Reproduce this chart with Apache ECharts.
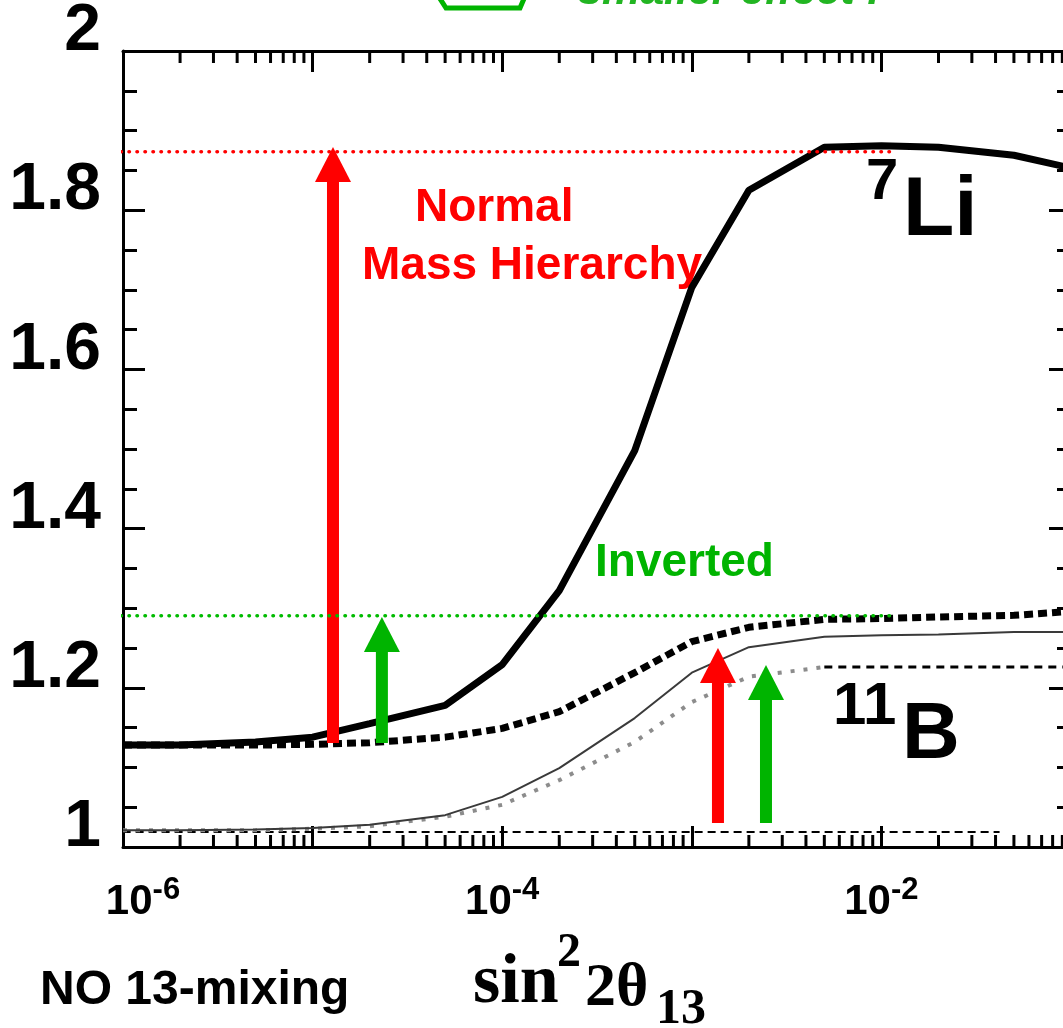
<!DOCTYPE html>
<html>
<head>
<meta charset="utf-8">
<title>7Li / 11B vs sin22θ13</title>
<script src="https://cdn.jsdelivr.net/npm/echarts@6/dist/echarts.min.js"></script>
<style>
html,body{margin:0;padding:0;background:#fff}
#main{width:1063px;height:1028px}
</style>
</head>
<body>
<div id="main"></div>
<script>
// sin^2 2theta13 sample points
var sinGrid = [1e-6, 2e-6, 5e-6, 1e-5, 2e-5, 5e-5, 1e-4, 2e-4, 5e-4, 1e-3, 2e-3, 5e-3, 1e-2, 2e-2, 5e-2, 1e-1];
var li7Normal   = [1.128, 1.128, 1.132, 1.138, 1.155, 1.178, 1.229, 1.322, 1.498, 1.703, 1.825, 1.879, 1.881, 1.879, 1.869, 1.853];
var li7Inverted = [1.128, 1.128, 1.128, 1.129, 1.131, 1.138, 1.149, 1.170, 1.219, 1.258, 1.276, 1.286, 1.287, 1.289, 1.291, 1.296];
var b11Normal   = [1.021, 1.021, 1.022, 1.024, 1.028, 1.040, 1.063, 1.099, 1.162, 1.219, 1.251, 1.264, 1.266, 1.267, 1.270, 1.270];
var b11Inverted = [1.021, 1.021, 1.021, 1.023, 1.026, 1.038, 1.053, 1.084, 1.132, 1.182, 1.214, 1.226, 1.226, 1.226, 1.226, 1.226];

// horizontal reference lines
var noMixX = [8.5e-7, 4.2e-2];   var noMixY = 1.019;
var normalX = [8.85e-7, 1.15e-2]; var normalY = 1.8735;
var invX = [8.85e-7, 1.15e-2];    var invY = 1.2906;

// arrows: [x, bottom, tip]
var redArrows   = [[1.281e-5, 1.1307, 1.8794], [1.374e-3, 1.030, 1.250]];
var greenArrows = [[2.32e-5, 1.1307, 1.289], [2.462e-3, 1.030, 1.2286]];

var xMin = 1e-6, xMax = 1e-1;
var yMin = 1, yMax = 2;

function pairs(xs, ys) {
  var out = [];
  for (var i = 0; i < xs.length; i++) out.push([xs[i], ys[i]]);
  return out;
}

var minorX = [];
for (var d = -6; d <= -2; d++) {
  for (var k = 2; k <= 9; k++) minorX.push([k * Math.pow(10, d), 1]);
}

var RED = '#ff0000', GREEN = '#00b400';

function arrowItem(color) {
  return function (params, api) {
    var b = api.coord([api.value(0), api.value(1)]);
    var t = api.coord([api.value(0), api.value(2)]);
    var head = 35, hw = 18, sw = 6;
    return {
      type: 'group',
      children: [
        {type: 'rect', shape: {x: b[0] - sw, y: t[1] + head - 1, width: sw * 2, height: b[1] - t[1] - head + 1}, style: {fill: color}},
        {type: 'polygon', shape: {points: [[t[0], t[1]], [t[0] - hw, t[1] + head], [t[0] + hw, t[1] + head]]}, style: {fill: color}}
      ]
    };
  };
}

var supLabel = {
  b:  {fontSize: 42, fontWeight: 'bold', color: '#000', lineHeight: 54, fontFamily: 'Liberation Sans, Arial, sans-serif'},
  b0: {fontSize: 42, fontWeight: 'bold', color: '#000', lineHeight: 54, padding: [0, 0, 0, 40], fontFamily: 'Liberation Sans, Arial, sans-serif'},
  s:  {fontSize: 31, fontWeight: 'bold', color: '#000', lineHeight: 31, verticalAlign: 'top', fontFamily: 'Liberation Sans, Arial, sans-serif'}
};

var myChart = echarts.init(document.getElementById('main'));
var option = {
  animation: false,
  backgroundColor: '#fff',
  grid: {left: 123, top: 51, width: 948, height: 796, containLabel: false, outerBoundsMode: 'none'},
  xAxis: [
    {
      type: 'log', logBase: 10, min: xMin, max: xMax, splitNumber: 5,
      position: 'bottom',
      axisLine: {lineStyle: {color: '#000', width: 3}},
      axisTick: {inside: true, length: 21, lineStyle: {color: '#000', width: 3}},
      splitLine: {show: false},
      axisLabel: {
        interval: 0, margin: 28, showMinLabel: true, showMaxLabel: true, hideOverlap: false,
        rich: supLabel,
        formatter: function (v) {
          var e = Math.round(Math.log(v) / Math.LN10);
          if (e % 2 !== 0) return '';
          return (e === -6 ? '{b0|10}' : '{b|10}') + '{s|' + e + '}';
        }
      }
    },
    {
      type: 'log', logBase: 10, min: xMin, max: xMax, splitNumber: 5,
      position: 'top',
      axisLine: {lineStyle: {color: '#000', width: 3}},
      axisTick: {inside: true, length: 21, lineStyle: {color: '#000', width: 3}},
      splitLine: {show: false},
      axisLabel: {show: false}
    }
  ],
  yAxis: [
    {
      type: 'value', min: yMin, max: yMax, interval: 0.2, position: 'left',
      axisLine: {show: true, lineStyle: {color: '#000', width: 3}},
      axisTick: {show: true, inside: true, length: 22, lineStyle: {color: '#000', width: 3}},
      minorTick: {show: true, splitNumber: 4, length: 14, lineStyle: {color: '#000', width: 3}},
      splitLine: {show: false},
      axisLabel: {
        margin: 22, color: '#000', fontSize: 66, fontWeight: 'bold',
        fontFamily: 'Liberation Sans, Arial, sans-serif',
        verticalAlign: 'bottom', lineHeight: 38,
        showMinLabel: true, showMaxLabel: true, hideOverlap: false
      }
    },
    {
      type: 'value', min: yMin, max: yMax, interval: 0.2, position: 'right',
      axisLine: {show: true, lineStyle: {color: '#000', width: 3}},
      axisTick: {show: true, inside: true, length: 22, lineStyle: {color: '#000', width: 3}},
      minorTick: {show: true, splitNumber: 4, length: 14, lineStyle: {color: '#000', width: 3}},
      splitLine: {show: false},
      axisLabel: {show: false}
    }
  ],
  series: [
    {
      type: 'custom', silent: true, data: minorX, z: 5,
      renderItem: function (params, api) {
        var b = api.coord([api.value(0), yMin]);
        var t = api.coord([api.value(0), yMax]);
        var st = {stroke: '#000', lineWidth: 3};
        return {type: 'group', children: [
          {type: 'line', shape: {x1: b[0], y1: b[1], x2: b[0], y2: b[1] - 12}, style: st},
          {type: 'line', shape: {x1: t[0], y1: t[1], x2: t[0], y2: t[1] + 12}, style: st}
        ]};
      }
    },
    {
      name: 'no mixing', type: 'line', data: pairs(noMixX, [noMixY, noMixY]), clip: false,
      showSymbol: false, silent: true, z: 2,
      lineStyle: {color: '#000', width: 2, type: [8, 5]}
    },
    {
      name: '11B inverted', type: 'line', data: pairs(sinGrid.slice(0, 12), b11Inverted.slice(0, 12)),
      showSymbol: false, silent: true, z: 3,
      lineStyle: {color: '#8c8c8c', width: 4, type: [4, 9]}
    },
    {
      name: '11B inverted tail', type: 'line', data: pairs(sinGrid.slice(11), b11Inverted.slice(11)),
      showSymbol: false, silent: true, z: 3,
      lineStyle: {color: '#000', width: 3, type: [8, 6]}
    },
    {
      name: '11B normal', type: 'line', data: pairs(sinGrid, b11Normal),
      showSymbol: false, silent: true, z: 3,
      lineStyle: {color: '#3a3a3a', width: 2}
    },
    {
      name: '7Li inverted', type: 'line', data: pairs(sinGrid, li7Inverted),
      showSymbol: false, silent: true, z: 4,
      lineStyle: {color: '#000', width: 7, type: [9, 5]}
    },
    {
      name: '7Li normal', type: 'line', data: pairs(sinGrid, li7Normal),
      showSymbol: false, silent: true, z: 4,
      lineStyle: {color: '#000', width: 7}
    },
    {
      type: 'custom', silent: true, data: redArrows, z: 6, clip: false,
      encode: {x: 0, y: [1, 2]},
      renderItem: arrowItem(RED)
    },
    {
      type: 'custom', silent: true, data: greenArrows, z: 6, clip: false,
      encode: {x: 0, y: [1, 2]},
      renderItem: arrowItem(GREEN)
    },
    {
      name: 'normal level', type: 'line', data: pairs(normalX, [normalY, normalY]), clip: false,
      showSymbol: false, silent: true, z: 7,
      lineStyle: {color: RED, width: 3.5, type: [0.5, 7.5], cap: 'round'}
    },
    {
      name: 'inverted level', type: 'line', data: pairs(invX, [invY, invY]), clip: false,
      showSymbol: false, silent: true, z: 7,
      lineStyle: {color: '#00bb00', width: 3.5, type: [0.5, 7.5], cap: 'round'}
    }
  ],
  graphic: [
    {type: 'polyline', shape: {points: [[428, -20], [446, 8], [520, 8], [532, -20]]},
     style: {stroke: GREEN, lineWidth: 5, fill: null}},
    {type: 'text', x: 578, y: -8, style: {text: 'smaller effect !', fill: '#22b522', font: 'italic bold 43px Liberation Sans, Arial, sans-serif', verticalAlign: 'middle'}},
    {type: 'text', x: 415, y: 208, style: {text: 'Normal', fill: RED, font: 'bold 46px Liberation Sans, Arial, sans-serif', verticalAlign: 'middle'}},
    {type: 'text', x: 362, y: 266, style: {text: 'Mass Hierarchy', fill: RED, font: 'bold 46px Liberation Sans, Arial, sans-serif', verticalAlign: 'middle'}},
    {type: 'text', x: 595, y: 563, style: {text: 'Inverted', fill: GREEN, font: 'bold 46px Liberation Sans, Arial, sans-serif', verticalAlign: 'middle'}},
    {type: 'text', x: 866, y: 183, style: {text: '7', fill: '#000', font: 'bold 58px Liberation Sans, Arial, sans-serif', verticalAlign: 'middle'}},
    {type: 'text', x: 903, y: 212, style: {text: 'Li', fill: '#000', font: 'bold 84px Liberation Sans, Arial, sans-serif', verticalAlign: 'middle'}},
    {type: 'text', x: 833, y: 707, style: {text: '11', fill: '#000', font: 'bold 60px Liberation Sans, Arial, sans-serif', verticalAlign: 'middle'}},
    {type: 'text', x: 902, y: 736, style: {text: 'B', fill: '#000', font: 'bold 80px Liberation Sans, Arial, sans-serif', verticalAlign: 'middle'}},
    {type: 'text', x: 40, y: 991, style: {text: 'NO 13-mixing', fill: '#000', font: 'bold 48px Liberation Sans, Arial, sans-serif', verticalAlign: 'middle'}},
    {type: 'text', x: 473, y: 984, style: {text: 'sin', fill: '#000', font: 'bold 70px Liberation Serif, Times New Roman, serif', verticalAlign: 'middle'}},
    {type: 'text', x: 557, y: 954, style: {text: '2', fill: '#000', font: 'bold 48px Liberation Serif, Times New Roman, serif', verticalAlign: 'middle'}},
    {type: 'text', x: 585, y: 989, style: {text: '2θ', fill: '#000', font: 'bold 62px Liberation Serif, Times New Roman, serif', verticalAlign: 'middle'}},
    {type: 'text', x: 656, y: 1010, style: {text: '13', fill: '#000', font: 'bold 50px Liberation Serif, Times New Roman, serif', verticalAlign: 'middle'}}
  ]
};
myChart.setOption(option);
</script>
</body>
</html>
